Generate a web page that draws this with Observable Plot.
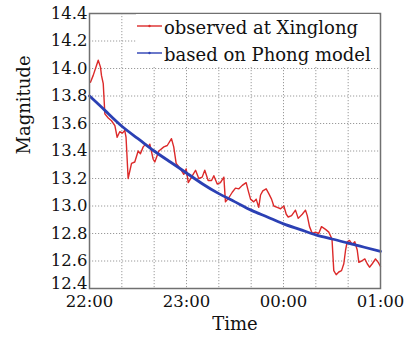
<!DOCTYPE html>
<html>
<head>
<meta charset="utf-8">
<script src="https://cdn.jsdelivr.net/npm/d3@7"></script>
<script src="https://cdn.jsdelivr.net/npm/@observablehq/plot@0.6"></script>
<style>
  html, body { margin: 0; padding: 0; background: white; }
  #chart svg text { font-family: "DejaVu Serif", serif; }
</style>
</head>
<body>
<div id="chart"></div>
<script>
// Observed magnitude at Xinglong (minutes after 22:00)
const obsMinutes = [0.6, 2.3, 5.4, 6.8, 7.4, 8.5, 9.5, 11.6, 13.6, 15.7, 17.1, 18.7, 20.4, 21.8, 22.6, 23.9,
  26.0, 28.0, 30.1, 31.5, 33.2, 34.8, 36.3, 37.3, 39.4, 40.4, 42.9, 46.0, 48.1, 50.7, 52.1, 53.6,
  56.3, 58.3, 59.8, 61.1, 63.1, 65.6, 67.6, 69.7, 71.3, 73.4, 75.5, 76.9, 79.0, 81.0, 83.1, 84.1,
  86.2, 88.3, 90.3, 92.4, 94.5, 96.9, 98.2, 99.6, 101.6, 103.1, 104.7, 105.8, 107.2, 109.3, 110.9,
  112.6, 114.0, 116.1, 118.2, 120.2, 121.7, 122.9, 125.0, 127.4, 129.1, 131.6, 133.6, 134.7, 136.1,
  137.8, 139.8, 141.8, 143.5, 146.0, 148.0, 150.0, 151.1, 152.6, 154.2, 155.9, 157.3, 158.4, 159.4,
  160.8, 162.5, 164.1, 165.6, 166.6, 168.3, 170.3, 171.8, 173.2, 174.9, 176.9, 178.6, 180.0];
const obsMag = [13.90, 13.95, 14.06, 14.01, 13.95, 13.89, 13.67, 13.64, 13.62, 13.585, 13.50, 13.54, 13.53, 13.55, 13.50, 13.20,
  13.31, 13.32, 13.40, 13.38, 13.43, 13.45, 13.43, 13.45, 13.34, 13.32, 13.40, 13.43, 13.44, 13.49, 13.43, 13.31,
  13.27, 13.23, 13.27, 13.17, 13.21, 13.26, 13.20, 13.21, 13.26, 13.185, 13.185, 13.22, 13.16, 13.17, 13.21, 13.03,
  13.06, 13.10, 13.13, 13.125, 13.15, 13.17, 13.11, 13.05, 13.03, 13.05, 12.99, 13.08, 13.11, 13.125, 13.09,
  13.05, 13.00, 12.99, 12.98, 13.00, 12.94, 12.92, 12.93, 12.97, 12.91, 12.94, 12.97, 12.93, 12.85,
  12.80, 12.81, 12.80, 12.85, 12.83, 12.81, 12.76, 12.53, 12.50, 12.52, 12.53, 12.58, 12.68, 12.74,
  12.75, 12.72, 12.74, 12.68, 12.59, 12.60, 12.615, 12.58, 12.555, 12.58, 12.615, 12.59, 12.56];

// Phong model magnitude
const modelMinutes = [0, 10, 20, 30, 40, 50, 60, 70, 80, 90, 100, 110, 120, 130, 140, 150, 160, 170, 180];
const modelMag = [13.80, 13.69, 13.58, 13.49, 13.40, 13.32, 13.24, 13.16, 13.09, 13.03, 12.97, 12.92, 12.87, 12.83, 12.79, 12.76, 12.73, 12.70, 12.67];

// Axes
const xTicks = [0, 60, 120, 180];
const xTickLabels = ["22:00", "23:00", "00:00", "01:00"];
const xGrid = [0, 20, 40, 60, 80, 100, 120, 140, 160, 180];
const yTicks = [12.4, 12.6, 12.8, 13.0, 13.2, 13.4, 13.6, 13.8, 14.0, 14.2, 14.4];
const seriesNames = ["observed at Xinglong", "based on Phong model"];
const seriesColors = ["#dc2a2a", "#2b40b4"];

const observed = obsMinutes.map((m, i) => ({m, v: obsMag[i]}));
const model = modelMinutes.map((m, i) => ({m, v: modelMag[i]}));

const gridStyle = {stroke: "#9a9a9a", strokeOpacity: 1, strokeWidth: 1, strokeDasharray: "1.2,1.8"};
const serif = "DejaVu Serif";

const chart = Plot.plot({
  width: 406,
  height: 341,
  marginLeft: 89,
  marginRight: 26,
  marginTop: 13,
  marginBottom: 53,
  style: {fontFamily: serif, fontSize: "16.5px", color: "#111", background: "white", overflow: "visible"},
  x: {domain: [0, 180]},
  y: {domain: [12.4, 14.4]},
  marks: [
    Plot.gridX(xGrid, gridStyle),
    Plot.gridY(yTicks, gridStyle),
    Plot.line(observed, {x: "m", y: "v", stroke: seriesColors[0], strokeWidth: 1.4}),
    Plot.line(model, {x: "m", y: "v", stroke: seriesColors[1], strokeWidth: 2.8, curve: "natural"}),
    Plot.frame({stroke: "#707070", strokeWidth: 1.5}),
    Plot.axisX(xTicks, {tickFormat: d => xTickLabels[xTicks.indexOf(d)], tickSize: 0, tickPadding: 7, label: null, fontFamily: serif}),
    Plot.axisY(yTicks.slice(1), {tickFormat: d => d.toFixed(1), tickSize: 0, tickPadding: 2, label: null, fontFamily: serif}),
    Plot.axisY(yTicks.slice(0, 1), {tickFormat: d => d.toFixed(1), tickSize: 0, tickPadding: 2, dy: -5, label: null, fontFamily: serif}),
    Plot.text(["Magnitude"], {frameAnchor: "left", dx: -65, dy: 3.5, rotate: -90, fontSize: 18, fontFamily: serif}),
    Plot.text(["Time"], {frameAnchor: "bottom", dy: 41, fontSize: 18, fontFamily: serif})
  ]
});

document.getElementById("chart").appendChild(chart);

// Legend inside the plot frame, top right
const svg = d3.select(chart);
const lg = svg.append("g").attr("font-family", serif).attr("font-size", 18).attr("text-anchor", "start");
lg.append("rect").attr("x", 136).attr("y", 14).attr("width", 243).attr("height", 52).attr("fill", "white");
const rows = [26, 53];
seriesNames.forEach((name, i) => {
  const y = rows[i];
  lg.append("line").attr("x1", 137).attr("x2", 162).attr("y1", y).attr("y2", y)
    .attr("stroke", seriesColors[i]).attr("stroke-width", 1.4);
  lg.append("circle").attr("cx", 149.5).attr("cy", y).attr("r", 1.2).attr("fill", seriesColors[i]);
  lg.append("text").attr("x", 164).attr("y", y + 7.5).attr("fill", "#111").attr("text-anchor", "start").text(name);
});
</script>
</body>
</html>
